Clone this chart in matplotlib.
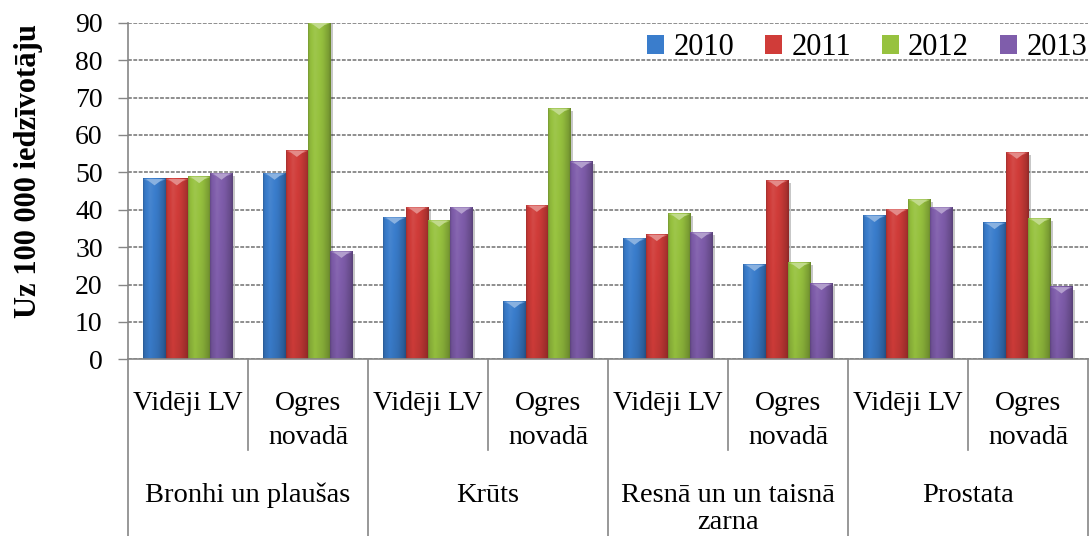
import numpy as np
import matplotlib
matplotlib.use("Agg")
import matplotlib.pyplot as plt
from matplotlib.patches import Rectangle, Polygon
from matplotlib.colors import to_rgb
from matplotlib import transforms as mtrans

# ---- data ----
outer_labels = ["Bronhi un plaušas", "Krūts", "Resnā un un taisnā\nzarna", "Prostata"]
inner_labels = ["Vidēji LV", "Ogres\nnovadā"]
years = ["2010", "2011", "2012", "2013"]
v2010 = [48.2, 49.7, 37.9, 15.4, 32.3, 25.3, 38.4, 36.5]
v2011 = [48.2, 55.8, 40.6, 41.1, 33.3, 47.8, 40.1, 55.3]
v2012 = [48.8, 90.3, 37.1, 67.0, 38.9, 25.8, 42.7, 37.6]
v2013 = [49.7, 28.8, 40.6, 52.8, 33.9, 20.2, 40.6, 19.3]
series = [v2010, v2011, v2012, v2013]
colors = ["#3a7dcc", "#d03c39", "#97c23f", "#7f5dab"]
yticks = [0, 10, 20, 30, 40, 50, 60, 70, 80, 90]
ylabel = "Uz 100 000 iedzīvotāju"

SERIF = ["Liberation Serif", "DejaVu Serif"]

W, H = 1090, 536
fig = plt.figure(figsize=(W / 100, H / 100), dpi=100)
ax_l, ax_r, ax_t, ax_b = 128, 1088, 22.7, 359.3
ax = fig.add_axes([ax_l / W, 1 - ax_b / H, (ax_r - ax_l) / W, (ax_b - ax_t) / H])

n = len(v2010)
x = np.arange(n)
bw = 0.186
gray = "#868686"

def shade(c, f):
    r = np.array(to_rgb(c))
    if f >= 1:
        return r + (1 - r) * (f - 1)
    return r * f

prof_x = np.linspace(0, 1, 40)
prof = np.interp(prof_x, [0, 0.06, 0.3, 0.65, 0.9, 1.0], [0.8, 0.95, 1.08, 0.97, 0.82, 0.7])
vprof = np.linspace(1.0, 0.9, 30)

shadow_tr = mtrans.offset_copy(ax.transData, fig=fig, x=2.5, y=-2.5, units="dots")

for si, vals in enumerate(series):
    offs = (si - 1.5) * bw
    bars = ax.bar(x + offs, vals, bw, color=colors[si], edgecolor="none", zorder=2, label=years[si])
    for p in bars:
        x0, w, h = p.get_x(), p.get_width(), p.get_height()
        ax.add_patch(Rectangle((x0, 0), w, h, transform=shadow_tr, facecolor="#000000",
                               alpha=0.22, edgecolor="none", zorder=1.9))
        img = np.array([[shade(colors[si], f * vf) for f in prof] for vf in vprof])
        img = np.clip(img, 0, 1)
        ax.imshow(img, extent=[x0, x0 + w, 0, h], aspect="auto", zorder=2.1,
                  interpolation="bilinear", origin="upper")
        top = min(h, 90)
        d = 1.7
        band = np.clip(shade(colors[si], 1.15), 0, 1)
        light = np.clip(shade(colors[si], 1.4), 0, 1)
        ax.add_patch(Polygon([[x0, top], [x0 + w, top], [x0 + w * 0.8, top - d * 0.35],
                              [x0 + w * 0.2, top - d * 0.35]],
                             closed=True, facecolor=band, edgecolor="none", zorder=2.2))
        ax.add_patch(Polygon([[x0 + w * 0.12, top], [x0 + w * 0.88, top], [x0 + w * 0.5, top - d]],
                             closed=True, facecolor=light, edgecolor="none", zorder=2.3))

ax.set_xlim(-0.5, n - 0.5)
ax.set_ylim(0, 90)
ax.set_yticks(yticks)
ax.set_yticklabels([str(t) for t in yticks], fontfamily=SERIF, fontsize=20)
ax.tick_params(axis="y", length=7.2, width=1, color=gray, pad=11)
ax.set_xticks([])
ax.yaxis.grid(True, linestyle=(0, (2.5, 1)), color="#707070", linewidth=1.1)
ax.set_axisbelow(True)
for s in ["top", "right"]:
    ax.spines[s].set_visible(False)
ax.spines["left"].set_color(gray)
ax.spines["bottom"].set_color(gray)
ax.spines["left"].set_linewidth(1.2)
ax.spines["bottom"].set_linewidth(1.2)

# category separators
trans = ax.get_xaxis_transform()
ph = ax_b - ax_t
minor_end = -(450 - ax_b) / ph
major_end = -(H + 5 - ax_b) / ph
for b in np.arange(-0.5, n, 1.0):
    k = int(round(b + 0.5))
    end = major_end if k % 2 == 0 else minor_end
    ax.plot([b, b], [0, end], transform=trans, color=gray, lw=1.2, clip_on=False, zorder=1)

# inner labels
line_px = 34
for i in range(n):
    lines = inner_labels[i % 2].split("\n")
    for li, t in enumerate(lines):
        yb = -(410 + li * line_px - ax_b) / ph
        ax.text(x[i], yb, t, transform=trans, ha="center", va="baseline",
                fontfamily=SERIF, fontsize=20)
# outer labels
for g, lab in enumerate(outer_labels):
    cx = 2 * g + 0.5
    for li, t in enumerate(lab.split("\n")):
        yb = -(501.7 + li * 27 - ax_b) / ph
        ax.text(cx, yb, t, transform=trans, ha="center", va="baseline",
                fontfamily=SERIF, fontsize=20.5)

fig.text(29 / W, 1 - 171 / H, ylabel, rotation=90, ha="center", va="center",
         fontfamily=SERIF, fontsize=22, fontweight="bold")

handles = [Rectangle((0, 0), 1, 1, facecolor=c, edgecolor="none") for c in colors]
leg = ax.legend(handles, years, ncol=4, frameon=False, loc="center right",
                bbox_to_anchor=(1087 / W, 1 - 47.5 / H), bbox_transform=fig.transFigure,
                borderpad=0, borderaxespad=0, handlelength=0.57, handleheight=0.57,
                handletextpad=0.3, columnspacing=1.0, prop={"family": SERIF, "size": 22})

fig.savefig("out.png", dpi=100)
